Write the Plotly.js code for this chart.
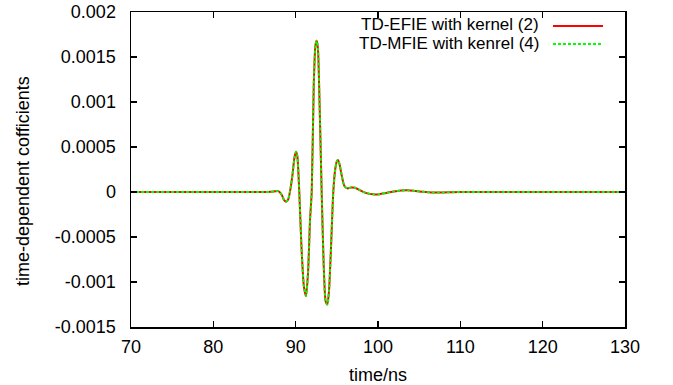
<!DOCTYPE html>
<html>
<head>
<meta charset="utf-8">
<script src="https://cdn.plot.ly/plotly-3.0.1.min.js"></script>
<style>html,body{margin:0;padding:0;background:#fff;}#chart{width:673px;height:385px;}</style>
</head>
<body>
<div id="chart"></div>
<script>
const timeNs = [70, 80, 86, 87, 87.5, 87.9, 88.3, 88.6, 88.85, 89.1, 89.3, 89.6, 89.85, 90.04, 90.2, 90.44, 90.7, 91.0, 91.26, 91.5, 91.75, 91.95, 92.2, 92.4, 92.55, 92.7, 92.9, 93.16, 93.4, 93.65, 93.85, 94.05, 94.3, 94.57, 94.8, 95.0, 95.14, 95.35, 95.6, 95.9, 96.27, 96.7, 97.2, 97.8, 98.5, 99.4, 100.2, 101.0, 101.9, 102.8, 103.6, 104.5, 105.5, 106.5, 107.5, 109, 110, 130];
const efie = [0, 0, 0, 0.000002, 0.000008, 0.00001, -0.00003, -0.00009, -0.000107, -0.00008, 0, 0.00018, 0.00038, 0.000448, 0.0004, 0, -0.0006, -0.00105, -0.001156, -0.0009, -0.0003, 0, 0.0012, 0.00163, 0.00168, 0.0016, 0.001, 0, -0.0008, -0.00122, -0.00125, -0.0011, -0.0006, 0, 0.00025, 0.00034, 0.000356, 0.0003, 0.00018, 0.00007, 0.00004, 0.00005, 0.000048, 0.00002, -0.00001, -0.000026, -0.000024, -0.00001, 0.000005, 0.000017, 0.00002, 0.000012, 0.000002, -0.000005, -0.000006, -0.000002, 0, 0];
const mfie = [0, 0, 0, 0.000002, 0.000008, 0.00001, -0.00003, -0.00009, -0.000107, -0.00008, 0, 0.00018, 0.00038, 0.000448, 0.0004, 0, -0.0006, -0.00105, -0.001156, -0.0009, -0.0003, 0, 0.0012, 0.00163, 0.00168, 0.0016, 0.001, 0, -0.0008, -0.00122, -0.00125, -0.0011, -0.0006, 0, 0.00025, 0.00034, 0.000356, 0.0003, 0.00018, 0.00007, 0.00004, 0.00005, 0.000048, 0.00002, -0.00001, -0.000026, -0.000024, -0.00001, 0.000005, 0.000017, 0.00002, 0.000012, 0.000002, -0.000005, -0.000006, -0.000002, 0, 0];
const seriesNames = ['TD-EFIE with kernel (2)', 'TD-MFIE with kenrel (4)'];
const xTicks = [70, 80, 90, 100, 110, 120, 130];
const yTicks = [0.002, 0.0015, 0.001, 0.0005, 0, -0.0005, -0.001, -0.0015];
const yTickText = ['0.002', '0.0015', '0.001', '0.0005', '0', '-0.0005', '-0.001', '-0.0015'];
const xTitle = 'time/ns';
const yTitle = 'time-dependent cofficients';

const font = {family: 'Liberation Sans, Arial, sans-serif', size: 18, color: '#000'};
const legendFont = {family: 'Liberation Sans, Arial, sans-serif', size: 17, color: '#000'};
const traces = [
  {x: timeNs, y: efie, name: seriesNames[0], mode: 'lines', type: 'scatter',
   line: {color: '#ff0000', width: 2, shape: 'spline', smoothing: 0.6}},
  {x: timeNs, y: mfie, name: seriesNames[1], mode: 'lines', type: 'scatter',
   line: {color: '#00ff00', width: 2, dash: '3px,2px', shape: 'spline', smoothing: 0.6}}
];
const axisCommon = {showgrid: false, zeroline: false, showline: true, linecolor: '#000', linewidth: 1.5,
  mirror: 'ticks', ticks: 'inside', ticklen: 6, tickwidth: 1.5, tickcolor: '#000', tickfont: font};
// plot-area pixel helpers for paper coordinates (annotations / legend keys only)
const L = 131, R = 625, T = 12, B = 327;
const px = v => (v - L) / (R - L);
const py = v => 1 - (v - T) / (B - T);
const layout = {
  width: 673, height: 385,
  margin: {l: L, r: 673 - R, t: T, b: 385 - B},
  paper_bgcolor: '#fff', plot_bgcolor: '#fff',
  showlegend: false,
  font: font,
  xaxis: Object.assign({}, axisCommon, {range: [70, 130], tickvals: xTicks, ticktext: xTicks.map(String),
    ticklabelstandoff: 3}),
  yaxis: Object.assign({}, axisCommon, {range: [-0.0015, 0.002], tickvals: yTicks, ticktext: yTickText,
    ticklabelstandoff: 10}),
  annotations: [
    {xref: 'paper', yref: 'paper', x: px(540), y: py(25), xanchor: 'right', yanchor: 'middle', borderpad: 0,
     text: seriesNames[0], showarrow: false, font: legendFont},
    {xref: 'paper', yref: 'paper', x: px(540), y: py(43.5), xanchor: 'right', yanchor: 'middle', borderpad: 0,
     text: seriesNames[1], showarrow: false, font: legendFont},
    {xref: 'paper', yref: 'paper', x: px(378), y: py(375), xanchor: 'center', yanchor: 'middle',
     text: xTitle, showarrow: false, font: font},
    {xref: 'paper', yref: 'paper', x: px(23), y: py(181), xanchor: 'center', yanchor: 'middle',
     text: yTitle, textangle: -90, showarrow: false, font: font}
  ],
  shapes: [
    {type: 'line', xref: 'paper', yref: 'paper', x0: px(553), x1: px(603),
     y0: py(26), y1: py(26), line: {color: '#ff0000', width: 2}},
    {type: 'line', xref: 'paper', yref: 'paper', x0: px(553), x1: px(603),
     y0: py(44), y1: py(44), line: {color: '#00ff00', width: 2, dash: '3px,2px'}}
  ]
};
Plotly.newPlot('chart', traces, layout, {staticPlot: true, displayModeBar: false});
</script>
</body>
</html>
